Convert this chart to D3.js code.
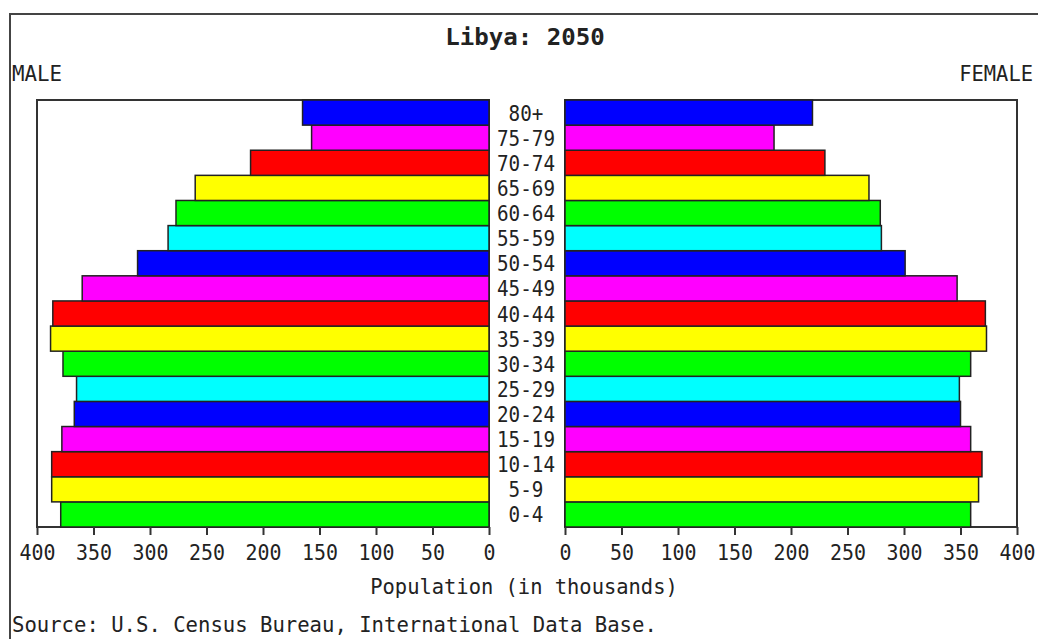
<!DOCTYPE html>
<html>
<head>
<meta charset="utf-8">
<script src="https://cdn.jsdelivr.net/npm/d3@7"></script>
<style>
  body { margin: 0; background: #fff; }
  svg text { font-family: "DejaVu Sans Mono", "Liberation Mono", monospace; fill: #222; }
</style>
</head>
<body>
<svg id="pyramid" width="1038" height="639"></svg>
<script>
var ages = ["0-4", "5-9", "10-14", "15-19", "20-24", "25-29", "30-34", "35-39", "40-44",
            "45-49", "50-54", "55-59", "60-64", "65-69", "70-74", "75-79", "80+"];
var male = [379, 387, 387, 378, 367, 365, 377, 388, 386, 360, 311, 284, 277, 260, 211, 157, 165];
var female = [359, 366, 369, 359, 350, 349, 359, 373, 372, 347, 301, 280, 279, 269, 230, 185, 219];
var tickVals = [0, 50, 100, 150, 200, 250, 300, 350, 400];
var palette = ["#00ff00", "#ffff00", "#ff0000", "#ff00ff", "#0000ff", "#00ffff"];

var svg = d3.select("#pyramid");
var top_ = 100, bottom = 527;

// squeeze the mono font so it looks like the old narrow bitmap font
function mono(sel, cw) {
    sel.attr("textLength", function () { return this.textContent.length * cw; })
        .attr("lengthAdjust", "spacingAndGlyphs");
    return sel;
}

var y = d3.scaleBand()
    .domain(ages.slice().reverse())
    .range([top_, bottom])
    .padding(0);

var xL = d3.scaleLinear().domain([0, 400]).range([489, 37]);
var xR = d3.scaleLinear().domain([0, 400]).range([565, 1017]);

// outer frame
svg.append("path")
    .attr("d", "M10,639V14H1038")
    .attr("fill", "none")
    .attr("stroke", "#444")
    .attr("stroke-width", 2);

// plot boxes
[xL, xR].forEach(function (x) {
    var r = x.range();
    svg.append("rect")
        .attr("x", Math.min(r[0], r[1]))
        .attr("y", top_)
        .attr("width", Math.abs(r[1] - r[0]))
        .attr("height", bottom - top_)
        .attr("fill", "none")
        .attr("stroke", "#333")
        .attr("stroke-width", 2);
});

var rows = ages.map(function (a, i) {
    return {age: a, m: male[i], f: female[i], c: palette[i % palette.length]};
});

svg.append("g").selectAll("rect")
    .data(rows)
    .enter().append("rect")
    .attr("x", function (d) { return xL(d.m); })
    .attr("y", function (d) { return y(d.age); })
    .attr("width", function (d) { return xL(0) - xL(d.m); })
    .attr("height", y.bandwidth())
    .attr("fill", function (d) { return d.c; })
    .attr("stroke", "#222")
    .attr("stroke-width", 1.5);

svg.append("g").selectAll("rect")
    .data(rows)
    .enter().append("rect")
    .attr("x", xR(0))
    .attr("y", function (d) { return y(d.age); })
    .attr("width", function (d) { return xR(d.f) - xR(0); })
    .attr("height", y.bandwidth())
    .attr("fill", function (d) { return d.c; })
    .attr("stroke", "#222")
    .attr("stroke-width", 1.5);

// age labels
svg.append("g").selectAll("text")
    .data(rows)
    .enter().append("text")
    .attr("x", 526)
    .attr("y", function (d) { return y(d.age) + y.bandwidth() / 2 + 8; })
    .attr("text-anchor", "middle")
    .style("font-size", "22px")
    .text(function (d) { return d.age; })
    .call(mono, 11.6);

// axes
[xL, xR].forEach(function (x) {
    var ax = svg.append("g")
        .attr("transform", "translate(0," + bottom + ")")
        .call(d3.axisBottom(x).tickValues(tickVals).tickSize(8).tickSizeOuter(0));
    ax.select(".domain").remove();
    ax.selectAll(".tick line").attr("stroke", "#333").attr("stroke-width", 2);
    ax.selectAll(".tick text")
        .attr("y", 12)
        .attr("dy", "0.95em")
        .style("font-size", "22px")
        .style("font-family", null)
        .attr("fill", "#222")
        .call(mono, 12);
});

svg.append("text")
    .attr("x", 525).attr("y", 45)
    .attr("text-anchor", "middle")
    .style("font-size", "23px").style("font-weight", "bold")
    .text("Libya: 2050")
    .call(mono, 14.5);

svg.append("text")
    .attr("x", 12).attr("y", 81)
    .style("font-size", "22px")
    .text("MALE")
    .call(mono, 12.5);

svg.append("text")
    .attr("x", 1033).attr("y", 81)
    .attr("text-anchor", "end")
    .style("font-size", "22px")
    .text("FEMALE")
    .call(mono, 12.3);

svg.append("text")
    .attr("x", 524).attr("y", 594)
    .attr("text-anchor", "middle")
    .style("font-size", "22px")
    .text("Population (in thousands)")
    .call(mono, 12.3);

svg.append("text")
    .attr("x", 12).attr("y", 632)
    .style("font-size", "22px")
    .text("Source: U.S. Census Bureau, International Data Base.")
    .call(mono, 12.4);
</script>
</body>
</html>
